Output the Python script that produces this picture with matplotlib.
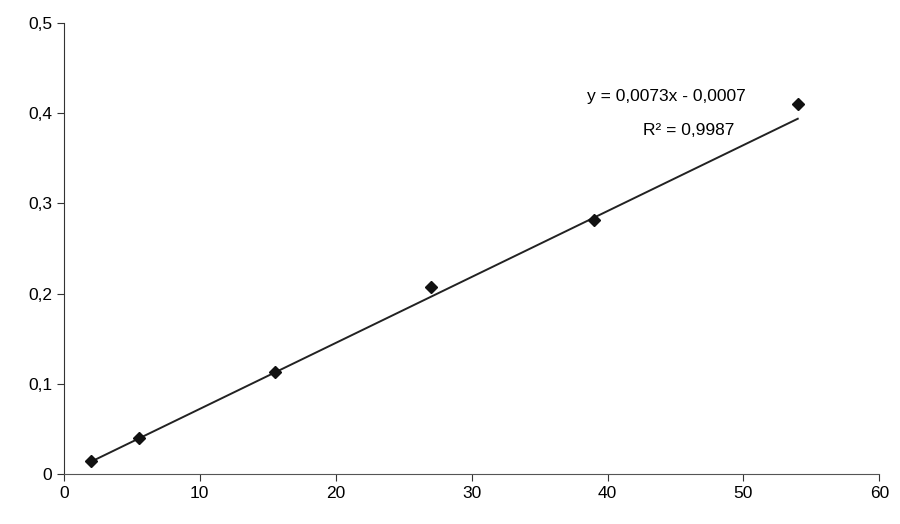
import matplotlib.pyplot as plt
import numpy as np

conc = [2.0, 5.5, 15.5, 27.0, 39.0, 54.0]
absorb = [0.015, 0.040, 0.113, 0.207, 0.281, 0.410]
slope, intercept = 0.0073, -0.0007
xticks = [0, 10, 20, 30, 40, 50, 60]
yticks = [0, 0.1, 0.2, 0.3, 0.4, 0.5]

fig = plt.figure(figsize=(9, 5.24), dpi=100)
ax = fig.add_axes([0.071, 0.095, 0.906, 0.862])

xf = np.array([conc[0], conc[-1]])
ax.plot(xf, slope * xf + intercept, color='#222222', lw=1.4)
ax.plot(conc, absorb, 'D', color='#111111', ms=6)

ax.text(44.3, 0.413, "y = 0,0073x - 0,0007", ha='center', fontsize=12.5, family='Liberation Sans')
ax.text(46.0, 0.375, "R² = 0,9987", ha='center', fontsize=12.5, family='Liberation Sans')

ax.set_xlim(0, 60)
ax.set_ylim(0, 0.5)
ax.set_xticks(xticks)
ax.set_yticks(yticks)
ax.set_xticklabels([str(t) for t in xticks], fontsize=12.5, family='Liberation Sans')
ax.set_yticklabels(['0'] + [("%.1f" % t).replace('.', ',') for t in yticks[1:]],
                   fontsize=12.5, family='Liberation Sans')
for s in ['top', 'right']:
    ax.spines[s].set_visible(False)
ax.spines['left'].set_color('#333333')
ax.spines['bottom'].set_color('#555555')
ax.tick_params(direction='out', length=5, color='#333333')

fig.savefig('out.png')
